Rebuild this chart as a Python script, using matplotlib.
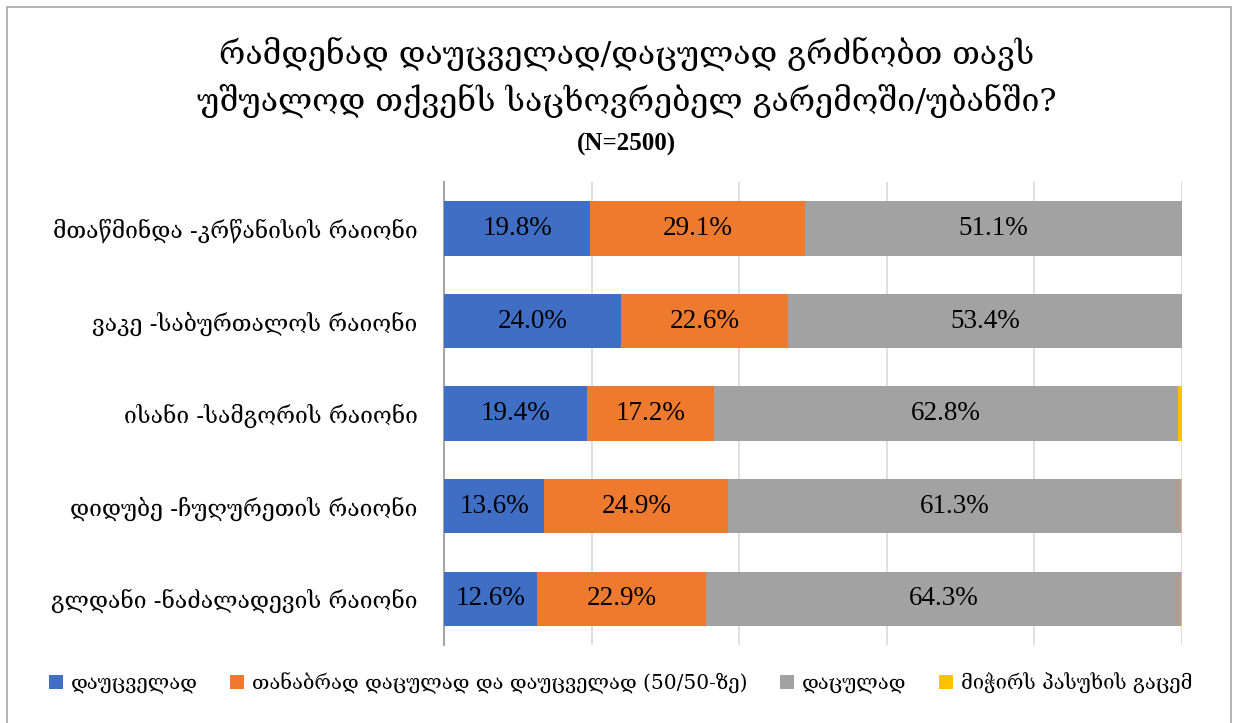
import numpy as np
import matplotlib.pyplot as plt
from matplotlib.patches import Rectangle

# data
districts = ['მთაწმინდა -კრწანისის რაიონი',
             'ვაკე -საბურთალოს რაიონი',
             'ისანი -სამგორის რაიონი',
             'დიდუბე -ჩუღურეთის რაიონი',
             'გლდანი -ნაძალადევის რაიონი']
unsafe = [19.8, 24.0, 19.4, 13.6, 12.6]
fifty = [29.1, 22.6, 17.2, 24.9, 22.9]
safe = [51.1, 53.4, 62.8, 61.3, 64.3]
no_answer = [0.0, 0.0, 0.6, 0.2, 0.2]
series_names = ['დაუცველად',
                'თანაბრად დაცულად და დაუცველად (50/50-ზე)',
                'დაცულად',
                'მიჭირს პასუხის გაცემ']
colors = ['#3F6EC4', '#EE7A30', '#A2A2A2', '#FFC000']

geo = ['DejaVu Serif', 'DejaVu Sans']
num = ['Liberation Serif', 'DejaVu Serif']

fig = plt.figure(figsize=(12.38, 7.23), dpi=100)
fig.patches.append(Rectangle((0.006, -0.01), 0.988, 1.0, transform=fig.transFigure,
                             fill=False, edgecolor='#A6A6A6', lw=1.2))

ax = fig.add_axes([0.3586, 0.108, 0.5962, 0.640])

y = np.arange(len(districts))
left = np.zeros(len(districts))
for vals, c, name in zip([unsafe, fifty, safe, no_answer], colors, series_names):
    vals = np.array(vals)
    ax.barh(y, vals, left=left, height=0.585, color=c, label=name, zorder=3)
    if c != '#FFC000':
        for yi, l, v in zip(y, left, vals):
            ax.text(l + v / 2, yi, f'{v:.1f}%', ha='center', va='center',
                    fontsize=19.5, family=num, color='black', zorder=4)
    left += vals

ax.set_xlim(0, 100)
ax.set_ylim(4.5, -0.5)
ax.set_xticks(np.arange(0, 101, 20))
ax.set_xticklabels([])
ax.tick_params(axis='x', length=0)
ax.tick_params(axis='y', length=0, pad=19)
ax.set_yticks(y)
ax.set_yticklabels(districts, fontsize=16.5, family=geo)
ax.grid(axis='x', color='#D9D9D9', lw=1.2, zorder=0)
for s in ['top', 'right', 'bottom']:
    ax.spines[s].set_visible(False)
ax.spines['left'].set_color('#A6A6A6')
ax.spines['left'].set_linewidth(1.5)

fig.text(0.506, 0.925, 'რამდენად დაუცველად/დაცულად გრძნობთ თავს',
         ha='center', va='center', fontsize=23, family=geo)
fig.text(0.506, 0.860, 'უშუალოდ თქვენს საცხოვრებელ გარემოში/უბანში?',
         ha='center', va='center', fontsize=23, family=geo)
fig.text(0.506, 0.800, '(N=2500)', ha='center', va='center',
         fontsize=18, family=num, fontweight='bold')

fig.legend(loc='center left', bbox_to_anchor=(0.025, 0.055), ncol=4,
           frameon=False, prop={'family': geo, 'size': 14.5},
           handlelength=0.7, handleheight=0.7, handletextpad=0.4,
           columnspacing=1.6)

fig.savefig('out.png', dpi=100)
